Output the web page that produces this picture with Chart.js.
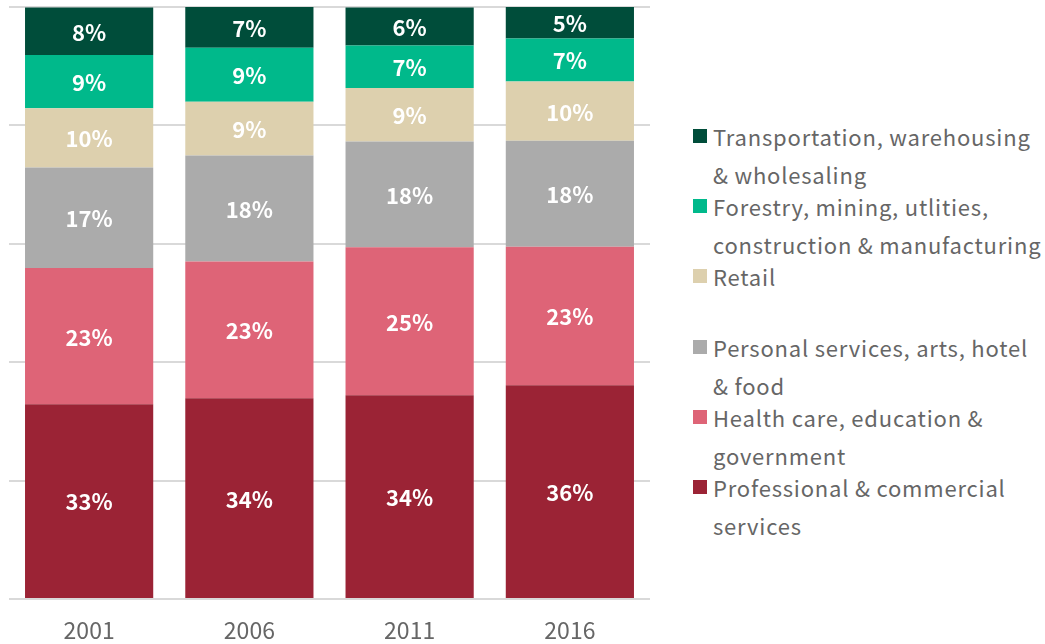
<!DOCTYPE html>
<html>
<head>
<meta charset="utf-8">
<script src="https://cdn.jsdelivr.net/npm/chart.js@4"></script>
<style>
    body { margin: 0; background: #fff; }
    #wrap { position: relative; width: 1045px; height: 644px; }
    #chartBox { position: absolute; left: 0; top: 0; width: 660px; height: 644px; }
    #legend { position: absolute; left: 691px; top: 117px; font-family: "Noto Sans CJK JP", "Noto Sans", sans-serif;
        font-size: 22px; color: #666; letter-spacing: 0.8px; }
    .item { position: relative; height: 70.2px; padding-left: 22px; line-height: 38px; }
    .item .sw { position: absolute; left: 2px; top: 12px; width: 14px; height: 14px; }
</style>
</head>
<body>
<div id="wrap">
    <div id="chartBox"><canvas id="shareChart"></canvas></div>
    <div id="legend"></div>
</div>
<script>
var years = ['2001', '2006', '2011', '2016'];

// bottom to top
var professional = [32.9, 33.9, 34.4, 36.1];
var health = [23.0, 23.1, 25.0, 23.4];
var personal = [17.0, 17.9, 17.9, 17.9];
var retail = [10.0, 9.1, 9.0, 10.0];
var forestry = [9.0, 9.1, 7.2, 7.3];
var transport = [8.0, 6.9, 6.4, 5.4];

var seriesNames = [
    'Professional & commercial services',
    'Health care, education & government',
    'Personal services, arts, hotel & food',
    'Retail',
    'Forestry, mining, utlities, construction & manufacturing',
    'Transportation, warehousing & wholesaling'
];
// legend lines, top to bottom
var legendLines = [
    ['Transportation, warehousing', '& wholesaling'],
    ['Forestry, mining, utlities,', 'construction & manufacturing'],
    ['Retail', ''],
    ['Personal services, arts, hotel', '& food'],
    ['Health care, education &', 'government'],
    ['Professional & commercial', 'services']
];
var seriesColors = ['#9B2335', '#DE6477', '#ABABAB', '#DDD0AE', '#00B98B', '#004D3A'];
var seriesData = [professional, health, personal, retail, forestry, transport];

var yTicks = [0, 20, 40, 60, 80, 100];

// percent labels in the middle of each segment
var segmentLabels = {
    id: 'segmentLabels',
    afterDatasetsDraw: function(chart) {
        var ctx = chart.ctx;
        ctx.save();
        ctx.fillStyle = '#fff';
        ctx.font = 'bold 22px "Noto Sans CJK JP", "Noto Sans", sans-serif';
        ctx.textAlign = 'center';
        ctx.textBaseline = 'middle';
        chart.data.datasets.forEach(function(ds, i) {
            chart.getDatasetMeta(i).data.forEach(function(bar, j) {
                var y = (bar.y + bar.base) / 2;
                ctx.fillText(Math.round(ds.data[j]) + '%', bar.x, y + 1);
            });
        });
        ctx.restore();
    }
};

var datasets = [];
for (var i = 0; i < seriesNames.length; i++) {
    datasets.push({
        label: seriesNames[i],
        data: seriesData[i],
        backgroundColor: seriesColors[i],
        borderWidth: 0,
        barPercentage: 0.8,
        categoryPercentage: 1.0
    });
}

var ctx = document.getElementById('shareChart');
var myChart = new Chart(ctx, {
    type: 'bar',
    plugins: [segmentLabels],
    options: {
        responsive: true,
        maintainAspectRatio: false,
        animation: false,
        layout: { padding: { left: 9, right: 10, top: 7, bottom: 0 } },
        plugins: {
            legend: { display: false },
            tooltip: { enabled: false }
        },
        scales: {
            x: {
                stacked: true,
                grid: { display: false },
                border: { display: false },
                afterFit: function(axis) { axis.height = 45; },
                ticks: {
                    color: '#666',
                    padding: 9,
                    font: { family: '"Noto Sans CJK JP", "Noto Sans", sans-serif', size: 23 }
                }
            },
            y: {
                stacked: true,
                min: 0,
                max: 100,
                afterBuildTicks: function(axis) {
                    axis.ticks = yTicks.map(function(v) { return { value: v }; });
                },
                ticks: { display: false },
                border: { display: false },
                grid: { color: '#D9D9D9', lineWidth: 2, drawTicks: false }
            }
        }
    },
    data: {
        labels: years,
        datasets: datasets
    }
});

// legend
var legendDiv = document.getElementById('legend');
for (var k = 0; k < legendLines.length; k++) {
    var color = seriesColors[seriesColors.length - 1 - k];
    legendDiv.innerHTML += "<div class='item'><span class='sw' style='background:" + color + "'></span>" +
        legendLines[k][0] + "<br/>" + (legendLines[k][1] || '&nbsp;') + "</div>";
}
</script>
</body>
</html>
